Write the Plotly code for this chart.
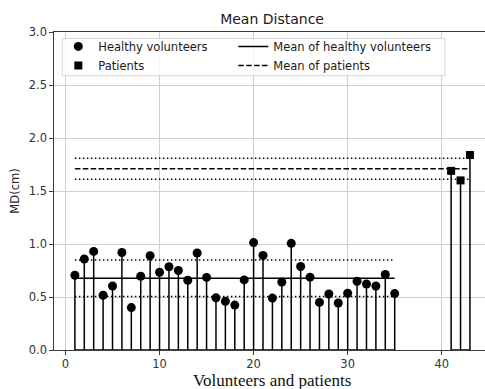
import numpy as np
import plotly.graph_objects as go

# ---- data ----
healthy_x = list(range(1, 36))
healthy_md = [0.705, 0.858, 0.93, 0.516, 0.604, 0.92, 0.40, 0.696, 0.89, 0.734,
              0.785, 0.75, 0.658, 0.915, 0.685, 0.492, 0.459, 0.424, 0.661, 1.013,
              0.892, 0.49, 0.642, 1.006, 0.788, 0.687, 0.449, 0.528, 0.443, 0.535,
              0.649, 0.623, 0.604, 0.712, 0.532]
patient_x = [41, 42, 43]
patient_md = [1.69, 1.60, 1.84]
x_ticks = [0, 10, 20, 30, 40]
y_ticks = [0.0, 0.5, 1.0, 1.5, 2.0, 2.5, 3.0]

h_mean = float(np.mean(healthy_md)); h_std = float(np.std(healthy_md))
p_mean = float(np.mean(patient_md)); p_std = float(np.std(patient_md))


def stems(xs, ys):
    X, Y = [], []
    for x, y in zip(xs, ys):
        X += [x, x, None]
        Y += [0, y, None]
    return X, Y


BLACK = "#000000"
DOT = "1.5px,2.5px"
DASH = "5.5px,2.4px"

fig = go.Figure()

# stems
for xs, ys in ((healthy_x, healthy_md), (patient_x, patient_md)):
    sx, sy = stems(xs, ys)
    fig.add_trace(go.Scatter(x=sx, y=sy, mode="lines", line=dict(color=BLACK, width=1.5),
                             showlegend=False, hoverinfo="skip"))
    fig.add_trace(go.Scatter(x=[xs[0], xs[-1]], y=[0, 0], mode="lines",
                             line=dict(color=BLACK, width=1.5), showlegend=False, hoverinfo="skip"))

# mean / std lines
h_span = [healthy_x[0], healthy_x[-1]]
p_span = [healthy_x[0], patient_x[-1]]
for span, m, s in ((h_span, h_mean, h_std), (p_span, p_mean, p_std)):
    for v in (m + s, m - s):
        fig.add_trace(go.Scatter(x=span, y=[v, v], mode="lines",
                                 line=dict(color=BLACK, width=1.5, dash=DOT), showlegend=False))

fig.add_trace(go.Scatter(x=h_span, y=[h_mean] * 2, mode="lines", name="Mean of healthy volunteers",
                         line=dict(color=BLACK, width=1.5), legend="legend2", legendrank=1))
fig.add_trace(go.Scatter(x=p_span, y=[p_mean] * 2, mode="lines", name="Mean of patients",
                         line=dict(color=BLACK, width=1.5, dash=DASH), legend="legend2", legendrank=2))

# markers
fig.add_trace(go.Scatter(x=healthy_x, y=healthy_md, mode="markers", name="Healthy volunteers",
                         marker=dict(symbol="circle", size=9, color=BLACK), legendrank=1,
                         cliponaxis=False))
fig.add_trace(go.Scatter(x=patient_x, y=patient_md, mode="markers", name="Patients",
                         marker=dict(symbol="square", size=8, color=BLACK), legendrank=2,
                         cliponaxis=False))

AX = "#3a3a3a"
LEG_FONT = dict(family="DejaVu Sans", size=11.5, color="#1a1a1a")
LEG_Y = 1.0003
fig.update_layout(
    width=485, height=389,
    margin=dict(l=53.5, r=0, t=32, b=39, autoexpand=False),
    paper_bgcolor="white", plot_bgcolor="white",
    font=dict(family="DejaVu Sans", size=11.5, color="#262626"),
    title=dict(text="Mean Distance", x=0.506, xref="paper", xanchor="center",
               y=1 - 19 / 389, yref="container", yanchor="middle",
               font=dict(size=14, color="#1a1a1a")),
    showlegend=True,
    legend=dict(orientation="v", x=0.01, y=LEG_Y, xanchor="left", yanchor="top",
                traceorder="normal", bgcolor="rgba(0,0,0,0)", borderwidth=0, font=LEG_FONT),
    legend2=dict(orientation="v", x=0.416, y=LEG_Y, xanchor="left", yanchor="top",
                 traceorder="normal", bgcolor="rgba(0,0,0,0)", borderwidth=0, font=LEG_FONT),
    shapes=[dict(type="rect", xref="paper", yref="paper", x0=0.019, x1=0.9073,
                 y0=0.8626, y1=0.980, layer="above",
                 fillcolor="rgba(255,255,255,0.8)", line=dict(color="#d6d6d6", width=1))],
    annotations=[dict(text="Volunteers and patients", xref="paper", yref="paper",
                      x=0.506, y=(350 - 380) / 318, xanchor="center", yanchor="middle",
                      showarrow=False,
                      font=dict(family="Liberation Serif", size=17, color="#111111"))],
    hovermode=False,
)
fig.update_xaxes(range=[-1.22, 44.6], tickvals=x_ticks, ticks="outside", ticklen=3.5,
                 tickcolor=AX, showline=True, linecolor=AX, linewidth=1.2, mirror=True,
                 showgrid=True, gridcolor="#cfcfcf", gridwidth=1, zeroline=False,
                 tickfont=dict(size=11.5, color="#333333"))
fig.update_yaxes(range=[0, 3], tickvals=y_ticks, tickformat=".1f", ticks="outside", ticklen=3.5,
                 tickcolor=AX, showline=True, linecolor=AX, linewidth=1.2, mirror=False,
                 showgrid=True, gridcolor="#cfcfcf", gridwidth=1, zeroline=False,
                 tickfont=dict(size=11.5, color="#333333"),
                 title=dict(text="MD(cm)", standoff=6, font=dict(size=11.5, color="#262626")))

fig.write_html("out.html")
